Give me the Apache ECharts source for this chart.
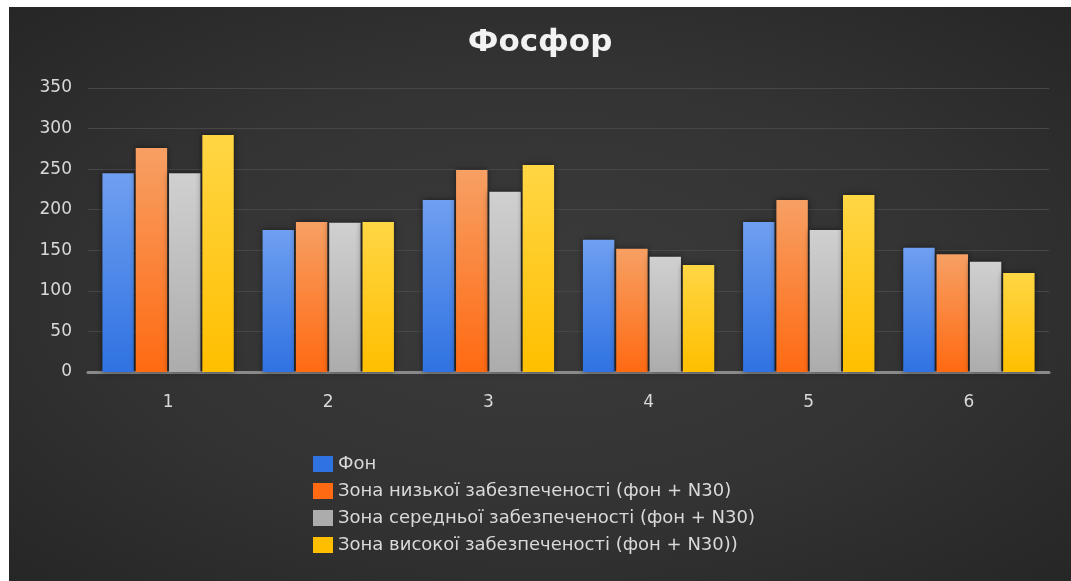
<!DOCTYPE html>
<html>
<head>
<meta charset="utf-8">
<script src="https://cdn.jsdelivr.net/npm/echarts@6/dist/echarts.min.js"></script>
<style>
    body { margin: 0; background: #fff; width: 1071px; height: 581px; overflow: hidden; position: relative; }
    #chart {
        position: absolute; left: 9px; top: 7px; right: 0; bottom: 0;
        background: radial-gradient(ellipse at center, #3b3b3b 0%, #333333 55%, #262626 100%);
    }
</style>
</head>
<body>
<div id="chart"></div>
<script>
// дані з діаграми
const categories = ['1', '2', '3', '4', '5', '6'];
const seriesNames = [
    'Фон',
    'Зона низької забезпеченості (фон + N30)',
    'Зона середньої забезпеченості (фон + N30)',
    'Зона високої забезпеченості (фон + N30))'
];
const fon = [245, 175, 212, 163, 185, 153];
const nyzka = [276, 185, 249, 152, 212, 145];
const serednia = [245, 184, 222, 142, 175, 136];
const vysoka = [292, 185, 255, 132, 218, 122];
const yTicks = { min: 0, max: 350, step: 50 };

const chart = echarts.init(document.getElementById('chart'));

// кольори: верх / низ градієнта
const colors = [
    ['#6f9ff0', '#2f72e2'],
    ['#f7a064', '#ff6a12'],
    ['#d0d0d0', '#acacac'],
    ['#ffd644', '#ffbf00']
];
const values = [fon, nyzka, serednia, vysoka];

const series = values.map(function (data, i) {
    return {
        name: seriesNames[i],
        type: 'bar',
        data: data,
        barGap: '6%',
        barCategoryGap: '18%',
        itemStyle: {
            color: new echarts.graphic.LinearGradient(0, 0, 0, 1, [
                { offset: 0, color: colors[i][0] },
                { offset: 1, color: colors[i][1] }
            ]),
            shadowBlur: 6,
            shadowColor: 'rgba(0,0,0,0.55)'
        }
    };
});

const option = {
    animation: false,
    title: {
        text: 'Фосфор',
        left: 'center',
        top: 15,
        textStyle: { color: '#f2f2f2', fontSize: 31, fontWeight: 'bold', fontFamily: 'DejaVu Sans' }
    },
    legend: {
        orient: 'vertical',
        left: 299,
        top: 443,
        itemWidth: 20,
        itemHeight: 16,
        itemGap: 9,
        icon: 'rect',
        textStyle: { color: '#d9d9d9', fontSize: 18, fontFamily: 'DejaVu Sans' },
        data: seriesNames.map(function (n, i) {
            return { name: n, itemStyle: { color: colors[i][1] } };
        })
    },
    grid: { left: 79, right: 22, top: 81, bottom: 209 },
    xAxis: {
        type: 'category',
        data: categories,
        axisLine: { lineStyle: { color: '#8a8a8a', width: 3 } },
        axisTick: { show: false },
        axisLabel: { color: '#d9d9d9', fontSize: 17, margin: 22, fontFamily: 'DejaVu Sans' }
    },
    yAxis: {
        type: 'value',
        min: yTicks.min,
        max: yTicks.max,
        interval: yTicks.step,
        axisLine: { show: false },
        axisTick: { show: false },
        axisLabel: { color: '#d9d9d9', fontSize: 17, margin: 16, fontFamily: 'DejaVu Sans' },
        splitLine: { lineStyle: { color: '#474747', width: 1 } }
    },
    series: series
};
chart.setOption(option);
</script>
</body>
</html>
